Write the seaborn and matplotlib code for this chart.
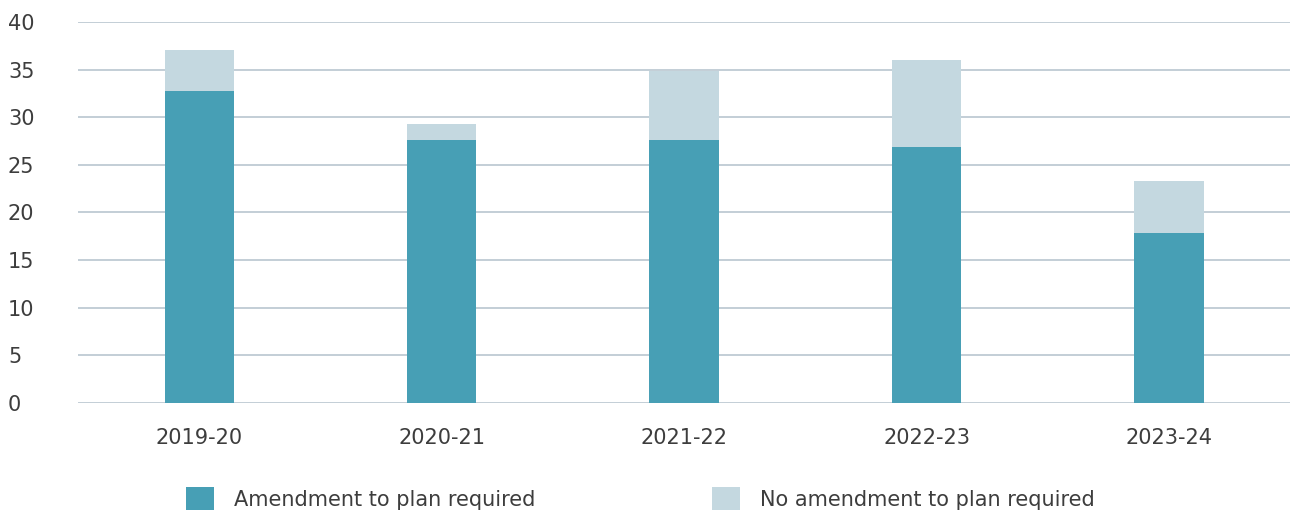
import matplotlib
matplotlib.use("Agg")
import matplotlib.pyplot as plt
import seaborn as sns
import pandas as pd
from matplotlib.patches import Patch

years = ["2019-20", "2020-21", "2021-22", "2022-23", "2023-24"]
amendment = [32.8, 27.6, 27.6, 26.9, 17.8]
no_amendment = [4.3, 1.7, 7.3, 9.1, 5.5]
series_names = ["Amendment to plan required", "No amendment to plan required"]
yticks = [0, 5, 10, 15, 20, 25, 30, 35, 40]

dark = "#479fb5"
light = "#c4d8e0"
grid = "#b9c6cf"
textc = "#3d3d3d"

sns.set_theme(style="white")
plt.rcParams['font.family'] = ['DejaVu Sans']

df = pd.DataFrame({"year": years, "amend": amendment,
                   "total": [a + b for a, b in zip(amendment, no_amendment)]})

fig = plt.figure(figsize=(12.98, 5.17), dpi=100)
ax = fig.add_axes([0.060, 0.221, 0.934, 0.736])

sns.barplot(data=df, x="year", y="total", color=light, width=0.285,
            saturation=1, linewidth=0, ax=ax, zorder=3)
sns.barplot(data=df, x="year", y="amend", color=dark, width=0.285,
            saturation=1, linewidth=0, ax=ax, zorder=4)

fs = 15
ax.set_xlim(-0.5, 4.5)
ax.set_ylim(0, 40)
ax.set_yticks(yticks)
ax.set_yticklabels([str(v) for v in yticks])
for lab in ax.get_yticklabels():
    lab.set_horizontalalignment("left")
ax.tick_params(axis="y", length=0, pad=50.4, labelsize=fs, labelcolor=textc)
ax.tick_params(axis="x", length=0, pad=18, labelsize=fs, labelcolor=textc)
ax.yaxis.grid(True, color=grid, linewidth=1.2, zorder=0)
ax.set_axisbelow(True)
for s in ax.spines.values():
    s.set_visible(False)
ax.set_xlabel("")
ax.set_ylabel("")

handles = [Patch(facecolor=dark, edgecolor="none"), Patch(facecolor=light, edgecolor="none")]
fig.legend(handles, series_names, loc="center", bbox_to_anchor=(0.4935, 0.035),
           ncol=2, frameon=False, fontsize=fs, handlelength=1.33, handleheight=1.33,
           handletextpad=0.95, columnspacing=8.5, labelcolor=textc)

fig.savefig("out.png", dpi=100)
